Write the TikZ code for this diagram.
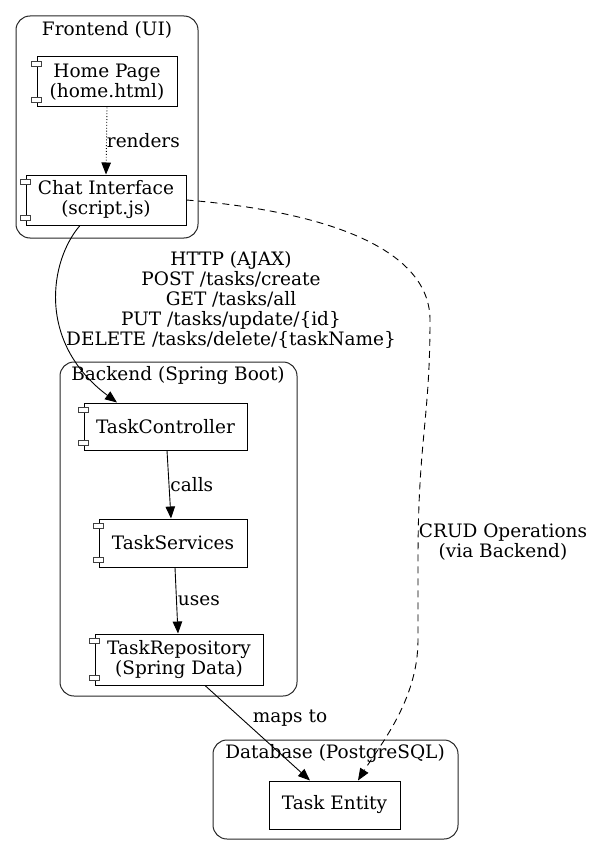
\documentclass[tikz,border=0pt]{standalone}
\usepackage{fontspec}
\setmainfont{DejaVu Serif}
\usetikzlibrary{arrows.meta,calc}
\begin{document}
\begin{tikzpicture}[x=1pt,y=-1pt,
  font=\fontsize{18.5}{20}\selectfont,
  cluster/.style={draw=black!85, line width=1pt, rounded corners=14pt},
  comp/.style={draw, line width=1pt, inner sep=0pt, align=center},
  tab/.style={draw=black!75, fill=white, line width=0.8pt},
  arr/.style={line width=0.9pt, -{Triangle[length=12pt,width=9.5pt]}},
  lbl/.style={inner sep=1pt, align=center}]
\useasboundingbox (0,0) rectangle (595,856);
% clusters
\draw[cluster] (16,16) rectangle (198,238);
\node (ftitle) at (107,30) {Frontend (UI)};
\draw[cluster] (60,362) rectangle (297,696);
\node (btitle) at (178,376) {Backend (Spring Boot)};
\draw[cluster] (213,740) rectangle (458,839);
\node (dtitle) at (335,754) {Database (PostgreSQL)};
% nodes
\node[comp, minimum width=140pt, minimum height=50pt] (home) at (107,82) {Home Page\\(home.html)};
\node[comp, minimum width=160pt, minimum height=50pt] (chat) at (106,200) {Chat Interface\\(script.js)};
\node[comp, minimum width=163pt, minimum height=47pt] (ctrl) at (165.5,426.5) {TaskController};
\node[comp, minimum width=148pt, minimum height=48pt] (serv) at (173,543) {TaskServices};
\node[comp, minimum width=168pt, minimum height=51pt] (repo) at (179,659.5) {TaskRepository\\(Spring Data)};
\node[comp, minimum width=131pt, minimum height=48pt] (ent) at (334.5,805) {Task Entity};
% component tabs
\foreach \n in {home,chat,ctrl,serv,repo}{
  \draw[tab] ($(\n.north west)+(-5,5)$) rectangle ++(10,5);
  \draw[tab] ($(\n.south west)+(-5,-10)$) rectangle ++(10,5);
}
% edges
\draw[arr, dotted] (home.south) -- (chat.north) node[pos=0.5, right, lbl, xshift=-1pt] (lrend) {renders};
\draw[arr] (ctrl.south -| 167,0) -- (serv.north -| 171,0) node[pos=0.5, right, lbl] (lcall) {calls};
\draw[arr] (serv.south -| 175,0) -- (repo.north -| 178,0) node[pos=0.5, right, lbl] (luse) {uses};
\draw[arr] (repo.south -| 205,0) -- (ent.north -| 310,0);
\node[lbl] (lmap) at (290,718) {maps to};
\draw[arr] (chat.south -| 80,0) .. controls (50,260) and (36,342) .. (ctrl.north -| 117,0);
\node[lbl] (lhttp) at (231,300) {HTTP (AJAX)\\POST /tasks/create\\GET /tasks/all\\PUT /tasks/update/\{id\}\\DELETE /tasks/delete/\{taskName\}};
\coordinate (c1) at (430,320);
\coordinate (c2) at (418,640);
\draw[arr, dashed, dash pattern=on 7pt off 5pt] (chat.east) .. controls (330,212) and (430,250) .. (c1) .. controls (430,420) and (418,440) .. (418,560) -- (c2) .. controls (418,700) and (380,745) .. (ent.north -| 358,0);
\node[lbl] (lcrud) at (503,542) {CRUD Operations\\(via Backend)};
\end{tikzpicture}
\end{document}
